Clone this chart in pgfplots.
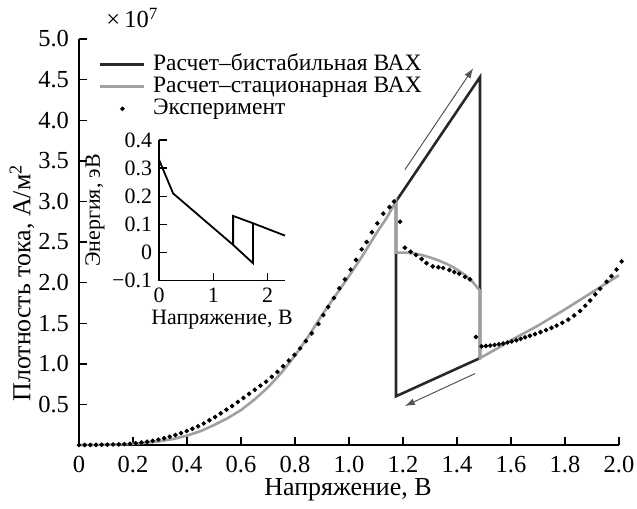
\documentclass[border=0pt]{standalone}
\usepackage{fontspec}
\setmainfont{Liberation Serif}
\usepackage{pgfplots}
\pgfplotsset{compat=1.18}
\usetikzlibrary{arrows.meta}
\definecolor{bist}{RGB}{40,40,40}
\definecolor{stat}{RGB}{160,160,160}
\definecolor{arr}{RGB}{85,85,85}
\begin{document}
\begin{tikzpicture}[font=\fontsize{12.3}{14}\selectfont]
\begin{axis}[
  at={(0,0)}, anchor=south west,
  scale only axis, width=270bp, height=203bp,
  xmin=0, xmax=2.0, ymin=0, ymax=5.0,
  axis lines*=left, axis line style={-, line width=0.7bp},
  tick align=inside, major tick length=4bp,
  tick style={line width=0.7bp, black},
  xtick={0,0.2,0.4,0.6,0.8,1.0,1.2,1.4,1.6,1.8,2.0},
  xticklabels={0,0.2,0.4,0.6,0.8,1.0,1.2,1.4,1.6,1.8,2.0},
  ytick={0.5,1.0,1.5,2.0,2.5,3.0,3.5,4.0,4.5,5.0},
  yticklabels={0.5,1.0,1.5,2.0,2.5,3.0,3.5,4.0,4.5,5.0},
  xticklabel style={yshift=-2bp},
  yticklabel style={xshift=-1.5bp},
  clip=false,
  legend cell align=left,
  legend style={at={(axis description cs:0.036,0.962)}, anchor=north west,
    draw=none, fill=none, inner sep=0pt, row sep=1bp, column sep=3bp,
    font=\fontsize{11.8}{13}\selectfont,
    nodes={inner sep=0.5bp, text height=7.5bp, text depth=1.5bp}},
  legend image code/.code={\draw[#1, line width=1.6bp] (0bp,0bp) -- (22bp,0bp);},
]
\addplot[bist, line width=1.3bp, line join=miter] coordinates {
(1.174,3.00) (1.485,4.53) (1.485,1.07) (1.174,0.60) (1.174,3.00)
};
\addlegendentry{Расчет–бистабильная ВАХ}
\addplot[stat, line width=1.3bp, line join=miter] coordinates {
(0,0) (0.05,0.0005) (0.1,0.003) (0.15,0.007) (0.2,0.015) (0.25,0.028)
(0.3,0.047) (0.35,0.075) (0.4,0.115) (0.45,0.17) (0.5,0.245) (0.55,0.33)
(0.6,0.43) (0.65,0.56) (0.7,0.71) (0.75,0.89) (0.8,1.10) (0.85,1.34)
(0.9,1.60) (0.95,1.84) (1.0,2.08) (1.05,2.33) (1.1,2.60) (1.14,2.80)
(1.174,3.00) (1.174,2.37) (1.205,2.37) (1.238,2.36) (1.27,2.34) (1.30,2.31)
(1.33,2.275) (1.362,2.23) (1.393,2.175) (1.423,2.11) (1.455,2.02) (1.485,1.90)
(1.485,1.07) (1.55,1.19) (1.6,1.29) (1.7,1.47) (1.8,1.67) (1.9,1.88) (2.0,2.09)
};
\addlegendentry{Расчет–стационарная ВАХ}
\addplot[only marks, mark=*, mark size=0.95bp, black,
  legend image code/.code={\fill (11bp,0bp) circle (0.95bp);}] coordinates {
(0.000,0.000) (0.021,0.000) (0.042,0.001) (0.063,0.002) (0.084,0.003)
(0.105,0.004) (0.126,0.006) (0.147,0.008) (0.168,0.011) (0.189,0.015)
(0.210,0.022) (0.231,0.030) (0.252,0.040) (0.273,0.052) (0.294,0.066)
(0.315,0.083) (0.336,0.102) (0.357,0.123) (0.378,0.147) (0.399,0.172)
(0.420,0.200) (0.441,0.230) (0.462,0.265) (0.483,0.305) (0.504,0.345)
(0.525,0.390) (0.546,0.435) (0.567,0.480) (0.588,0.530) (0.609,0.580)
(0.630,0.630) (0.651,0.680) (0.672,0.730) (0.693,0.780) (0.714,0.840)
(0.735,0.900) (0.756,0.970) (0.777,1.040) (0.798,1.110) (0.819,1.190)
(0.840,1.280) (0.862,1.375) (0.887,1.490) (0.905,1.600) (0.923,1.700)
(0.944,1.810) (0.964,1.930) (0.985,2.040) (1.006,2.160) (1.026,2.280)
(1.047,2.410) (1.065,2.500) (1.085,2.620) (1.105,2.730) (1.127,2.850)
(1.150,2.930) (1.167,3.000) (1.189,2.750) (1.207,2.430) (1.228,2.380)
(1.248,2.340) (1.269,2.290) (1.287,2.240) (1.310,2.200) (1.331,2.190)
(1.349,2.180) (1.372,2.155) (1.390,2.130) (1.408,2.110) (1.430,2.070)
(1.448,2.040) (1.470,1.330) (1.491,1.215) (1.507,1.220) (1.523,1.225)
(1.539,1.232) (1.555,1.240) (1.571,1.250) (1.587,1.262) (1.603,1.275)
(1.620,1.290) (1.636,1.308) (1.652,1.326) (1.670,1.345) (1.689,1.365)
(1.709,1.390) (1.730,1.415) (1.750,1.442) (1.769,1.470) (1.790,1.505)
(1.812,1.545) (1.834,1.595) (1.856,1.650) (1.875,1.715) (1.893,1.780)
(1.912,1.855) (1.930,1.925) (1.954,2.010) (1.972,2.080) (1.991,2.160)
(2.010,2.260)
};
\addlegendentry{Эксперимент}
\draw[arr, line width=0.5bp, -{Latex[length=5bp,width=3.5bp]}] (axis cs:1.207,3.39) -- (axis cs:1.46,4.64);
\draw[arr, line width=0.5bp, -{Latex[length=5bp,width=3.5bp]}] (axis cs:1.467,0.88) -- (axis cs:1.207,0.48);
\end{axis}
\node[anchor=west, inner sep=0pt] at (13.5bp,213.5bp) {×\,10\textsuperscript{7}};
\node[rotate=90, inner sep=0pt, font=\fontsize{13}{15}\selectfont] at (-28.5bp,81bp) {Плотность тока, А/м\textsuperscript{2}};
\node[inner sep=0pt, font=\fontsize{13}{15}\selectfont] at (134.5bp,-22.5bp) {Напряжение, В};
\begin{axis}[
  at={(40bp,82.2bp)}, anchor=south west,
  scale only axis, width=63bp, height=70.3bp,
  xmin=0, xmax=2.32, ymin=-0.1, ymax=0.4,
  axis lines*=left, axis line style={-, line width=0.7bp},
  tick align=inside, major tick length=4bp,
  tick style={line width=0.7bp, black},
  xtick={0,1,2}, xticklabels={0,1,2},
  ytick={-0.1,0,0.1,0.2,0.3,0.4},
  yticklabels={−0.1,0,0.1,0.2,0.3,0.4},
  tick label style={font=\fontsize{11}{12}\selectfont},
  label style={font=\fontsize{11}{12}\selectfont},
  xlabel={Напряжение, В}, ylabel={Энергия, эВ},
  xlabel style={yshift=3bp}, ylabel style={yshift=-3bp},
  clip=false,
]
\addplot[black, line width=0.9bp, line join=miter] coordinates {
(0,0.33) (0.26,0.21) (1.365,0.027) (1.73,-0.038) (1.73,0.104) (2.32,0.06)
};
\addplot[black, line width=0.9bp, line join=miter] coordinates {
(1.365,0.027) (1.365,0.13) (1.73,0.104)
};
\end{axis}
\pgfresetboundingbox
\useasboundingbox (-39.5bp,-32bp) rectangle (279bp,222.5bp);
\end{tikzpicture}
\end{document}
